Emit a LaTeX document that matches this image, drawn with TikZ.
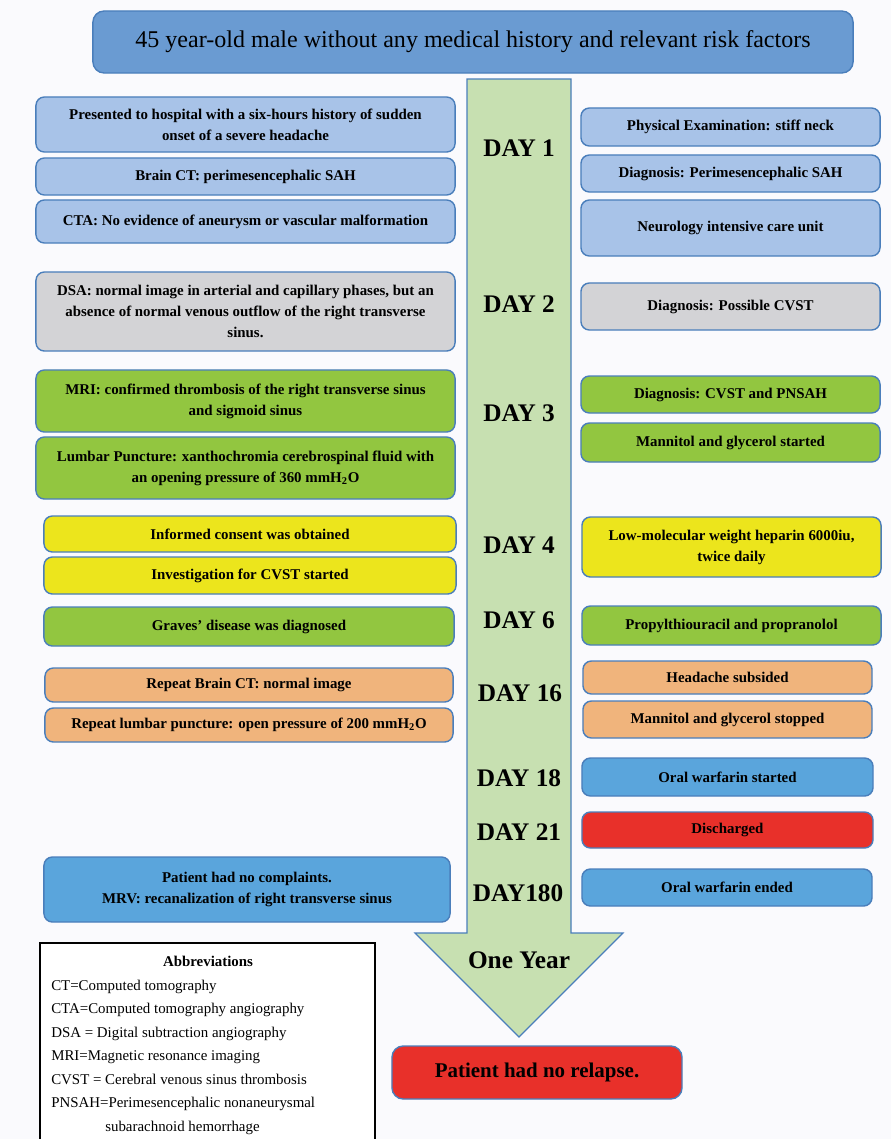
\documentclass[tikz,border=0pt]{standalone}
\usepackage{fontspec}
\setmainfont{Liberation Serif}
\usepackage{xcolor}
\usetikzlibrary{positioning}

\definecolor{bgc}{RGB}{250,250,253}
\definecolor{bdr}{RGB}{74,126,187}
\definecolor{ttlc}{RGB}{106,155,210}
\definecolor{lblue}{RGB}{168,195,232}
\definecolor{gryc}{RGB}{211,211,214}
\definecolor{grnc}{RGB}{146,198,64}
\definecolor{ylwc}{RGB}{236,229,28}
\definecolor{tanc}{RGB}{240,180,124}
\definecolor{mblue}{RGB}{90,165,220}
\definecolor{redc}{RGB}{232,48,42}
\definecolor{arrc}{RGB}{199,224,177}

\begin{document}
\begin{tikzpicture}[
  x=0.025cm, y=-0.025cm,
  nd/.style={draw=bdr, line width=1pt, rounded corners=6pt, align=center, inner sep=2pt,
    font=\bfseries\fontsize{10.6}{15}\selectfont, minimum width=#1},
  nd/.default=10.475cm,
  lb/.style={nd, fill=lblue},
  gry/.style={nd, fill=gryc},
  grn/.style={nd, fill=grnc},
  ylw/.style={nd, fill=ylwc},
  tan/.style={nd, fill=tanc},
  mbl/.style={nd, fill=mblue},
  rd/.style={nd, fill=redc},
  day/.style={font=\bfseries\fontsize{18}{20}\selectfont, inner sep=0pt},
  abr/.style={font=\fontsize{10.6}{12}\selectfont, inner sep=0pt, anchor=base west}
]
\fill[bgc] (0,0) rectangle (891,1139);
\useasboundingbox (0,0) rectangle (891,1139);
% ---------------- header
\node[nd, fill=ttlc, minimum width=19cm, minimum height=1.55cm, rounded corners=8pt,
  font=\fontsize{17.1}{20}\selectfont] (ttl) at (473,42)
  {45 year-old male without any medical history and relevant risk factors};
% ---------------- timeline arrow
\draw[bdr, fill=arrc, line width=0.8pt] (467,79) -- (571,79) -- (571,933) -- (623,933)
  -- (519,1037) -- (415,933) -- (467,933) -- cycle;
% ---------------- day 1
\node[day] (d1) at (519,148) {DAY 1};
\node[lb, minimum height=1.375cm] (pres) at (245.5,124.5) {Presented to hospital with a six-hours history of sudden\\onset of a severe headache};
\node[lb, minimum height=0.925cm] (bct) at (245.5,176.5) {Brain CT: perimesencephalic SAH};
\node[lb, minimum height=1.075cm] (cta) at (245.5,221.5) {CTA: No evidence of aneurysm or vascular malformation};
\node[lb, minimum width=7.475cm, minimum height=0.95cm] (pex) at (730.5,127) {Physical Examination: stiff neck};
\node[lb, minimum width=7.475cm, minimum height=0.925cm] (dsah) at (730.5,173.5) {Diagnosis: Perimesencephalic SAH};
\node[lb, minimum width=7.475cm, minimum height=1.4cm] (icu) at (730.5,228) {Neurology intensive care unit};
% ---------------- day 2
\node[day] (d2) at (519,304) {DAY 2};
\node[gry, minimum height=1.975cm] (dsa) at (245.5,311.5) {DSA: normal image in arterial and capillary phases, but an\\absence of normal venous outflow of the right transverse\\sinus.};
\node[gry, minimum width=7.475cm, minimum height=1.175cm] (dpos) at (730.5,306.5) {Diagnosis: Possible CVST};
% ---------------- day 3
\node[day] (d3) at (519,413) {DAY 3};
\node[grn, minimum height=1.55cm] (mri) at (245.5,401) {MRI: confirmed thrombosis of the right transverse sinus\\and sigmoid sinus};
\node[grn, minimum height=1.55cm] (lpun) at (245.5,468) {Lumbar Puncture: xanthochromia cerebrospinal fluid with\\an opening pressure of 360 mmH\textsubscript{2}O};
\node[grn, minimum width=7.475cm, minimum height=0.925cm] (dcv) at (730.5,394.5) {Diagnosis: CVST and PNSAH};
\node[grn, minimum width=7.475cm, minimum height=0.975cm] (mgs) at (730.5,442.5) {Mannitol and glycerol started};
% ---------------- day 4
\node[day] (d4) at (519,545) {DAY 4};
\node[ylw, minimum width=10.3cm, minimum height=0.9cm] (cons) at (250,534) {Informed consent was obtained};
\node[ylw, minimum width=10.3cm, minimum height=0.925cm] (inv) at (250,575.5) {Investigation for CVST started};
\node[ylw, minimum width=7.475cm, minimum height=1.5cm] (lmwh) at (731.5,547) {Low-molecular weight heparin 6000iu,\\twice daily};
% ---------------- day 6
\node[day] (d6) at (519,620) {DAY 6};
\node[grn, minimum width=10.25cm, minimum height=0.975cm] (grv) at (249,626.5) {Graves' disease was diagnosed};
\node[grn, minimum width=7.475cm, minimum height=0.975cm] (ptu) at (731.5,625.5) {Propylthiouracil and propranolol};
% ---------------- day 16
\node[day] (d16) at (520,693) {DAY 16};
\node[tan, minimum width=10.2cm, minimum height=0.85cm] (rct) at (249,685) {Repeat Brain CT: normal image};
\node[tan, minimum width=10.2cm, minimum height=0.85cm] (rlp) at (249,725) {Repeat lumbar puncture: open pressure of 200 mmH\textsubscript{2}O};
\node[tan, minimum width=7.225cm, minimum height=0.825cm] (hds) at (727.5,677.5) {Headache subsided};
\node[tan, minimum width=7.225cm, minimum height=0.925cm] (mgx) at (727.5,719.5) {Mannitol and glycerol stopped};
% ---------------- day 18, 21, 180
\node[day] (d18) at (519,778) {DAY 18};
\node[mbl, minimum width=7.275cm, minimum height=0.95cm] (ows) at (727.5,777) {Oral warfarin started};
\node[day] (d21) at (519,832) {DAY 21};
\node[rd, minimum width=7.275cm, minimum height=0.9cm] (dis) at (727.5,830) {Discharged};
\node[day] (d180) at (518,893) {DAY180};
\node[mbl, minimum width=10.15cm, minimum height=1.625cm] (npc) at (247,889.5) {Patient had no complaints.\\MRV: recanalization of right transverse sinus};
\node[mbl, minimum width=7.25cm, minimum height=0.925cm] (owe) at (727,887.5) {Oral warfarin ended};
% ---------------- one year
\node[day] (yr) at (519,960) {One Year};
\node[rd, minimum width=7.25cm, minimum height=1.325cm, rounded corners=8pt,
  font=\bfseries\fontsize{14.9}{18}\selectfont] (rel) at (537,1072.5) {Patient had no relapse.};
% ---------------- abbreviations
\draw[black, line width=1.2pt, fill=white] (40,943) rectangle (375,1150);
\node[font=\bfseries\fontsize{10.6}{12}\selectfont, inner sep=0pt, anchor=base] (abt) at (208,966) {Abbreviations};
\node[abr] (ab1) at (51,990) {CT=Computed tomography};
\node[abr] (ab2) at (51,1013.5) {CTA=Computed tomography angiography};
\node[abr] (ab3) at (51,1037) {DSA = Digital subtraction angiography};
\node[abr] (ab4) at (51,1060.5) {MRI=Magnetic resonance imaging};
\node[abr] (ab5) at (51,1084) {CVST = Cerebral venous sinus thrombosis};
\node[abr] (ab6) at (51,1107.5) {PNSAH=Perimesencephalic nonaneurysmal};
\node[abr] (ab7) at (105,1131) {subarachnoid hemorrhage};
\end{tikzpicture}
\end{document}
